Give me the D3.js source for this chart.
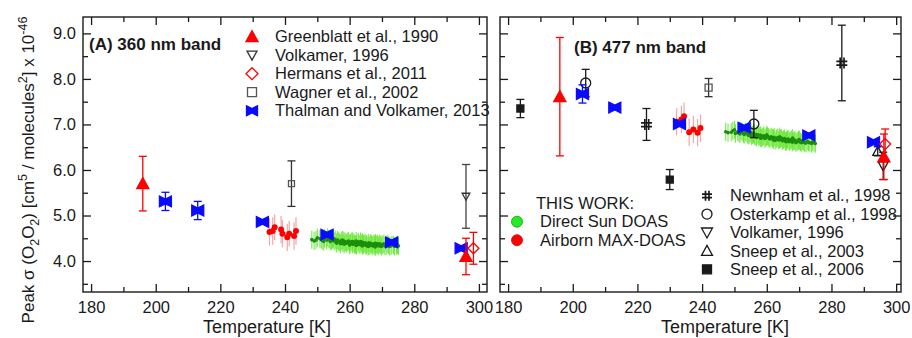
<!DOCTYPE html>
<html>
<head>
<meta charset="utf-8">
<script src="https://cdn.jsdelivr.net/npm/d3@7"></script>
<style>
  body { margin: 0; background: #fff; }
  svg { display: block; font-family: "Liberation Sans", Arial, sans-serif; }
</style>
</head>
<body>
<svg id="chart" width="912" height="338"></svg>
<script>
// ---- data: [temperature K, peak sigma (1e-46), error] ----
// (A) 360 nm band
const greenblattA = [[196, 5.70, 0.60], [296, 4.10, 0.40]];
const volkamerA = [[296, 5.42, 0.70]];
const hermansA = [[298.3, 4.28, 0.35]];
const wagnerA = [[242, 5.70, 0.50]];
const thalmanA = [[203, 5.31, 0.20], [213, 5.11, 0.20], [233, 4.86, 0], [253, 4.58, 0], [273, 4.41, 0], [294.5, 4.28, 0]];
const airborneA = [[235.2, 4.64, 0.3], [236.2, 4.66, 0.3], [236.8, 4.74, 0.28], [238.8, 4.69, 0.3], [239.2, 4.60, 0.3],
  [240.7, 4.52, 0.3], [241.3, 4.60, 0.28], [242.8, 4.55, 0.3], [243.4, 4.66, 0.3]];
const directSunA = [[248.3, 4.47], [249.0, 4.44], [249.6, 4.46], [250.0, 4.51], [250.8, 4.49], [251.2, 4.48], [251.5, 4.45],
  [252.0, 4.43], [252.2, 4.50], [252.9, 4.46], [253.2, 4.52], [253.6, 4.48], [253.9, 4.49], [254.0, 4.43], [254.4, 4.45],
  [254.7, 4.47], [255.0, 4.50], [255.2, 4.44], [255.5, 4.47], [255.8, 4.42], [256.0, 4.39], [256.3, 4.46], [256.6, 4.43],
  [256.9, 4.41], [257.2, 4.38], [257.4, 4.44], [257.7, 4.46], [257.9, 4.40], [258.0, 4.45], [258.3, 4.37], [258.5, 4.43],
  [258.8, 4.41], [259.0, 4.39], [259.4, 4.42], [259.6, 4.44], [259.9, 4.38], [260.0, 4.35], [260.2, 4.39], [260.4, 4.41],
  [260.7, 4.43], [260.9, 4.37], [261.0, 4.43], [261.3, 4.40], [261.5, 4.37], [261.8, 4.36], [262.0, 4.44], [262.1, 4.34],
  [262.3, 4.39], [262.7, 4.42], [262.9, 4.37], [263.2, 4.36], [263.4, 4.43], [263.6, 4.39], [263.9, 4.33], [264.0, 4.41],
  [264.1, 4.35], [264.3, 4.37], [264.5, 4.38], [264.8, 4.40], [265.0, 4.34], [265.2, 4.36], [265.4, 4.37], [265.7, 4.32],
  [265.9, 4.40], [266.0, 4.33], [266.3, 4.35], [266.5, 4.39], [266.8, 4.37], [267.0, 4.35], [267.2, 4.33], [267.5, 4.38],
  [267.7, 4.36], [267.9, 4.31], [268.0, 4.39], [268.1, 4.34], [268.4, 4.36], [268.6, 4.38], [268.8, 4.35], [269.0, 4.33],
  [269.3, 4.38], [269.5, 4.36], [269.8, 4.32], [270.0, 4.35], [270.3, 4.36], [270.6, 4.38], [270.9, 4.33], [271.3, 4.34],
  [271.6, 4.37], [272.0, 4.36], [272.3, 4.32], [272.8, 4.33], [273.1, 4.36], [273.6, 4.35], [273.9, 4.32], [274.5, 4.34],
  [274.8, 4.36], [275.1, 4.33]];

// (B) 477 nm band
const sneep2006B = [[183.8, 7.35, 0.20], [230, 5.79, 0.22]];
const greenblattB = [[196, 7.61, 1.30], [296.2, 6.29, 0.50]];
const osterkampB = [[204, 7.91, 0.30], [256, 7.01, 0.30]];
const thalmanB = [[203, 7.67, 0.20], [213, 7.37, 0], [233, 7.01, 0], [253, 6.93, 0], [273, 6.76, 0], [293, 6.61, 0]];
const newnhamB = [[222.8, 7.00, 0.35], [283.2, 8.35, 0.83]];
const wagnerB = [[242, 7.81, 0.20]];
const hermansB = [[296.6, 6.57, 0.33]];
const volkamerB = [[296, 6.09, 0.30]];
const sneep2003B = [[294.3, 6.41, 0.10]];
const airborneB = [[232.1, 7.06, 0.3], [233.6, 7.11, 0.3], [234.4, 7.18, 0.3], [236.0, 6.83, 0.3], [237.3, 6.89, 0.3],
  [238.6, 6.82, 0.3], [239.5, 6.92, 0.3]];
const directSunB = [[247.3, 6.84], [248.0, 6.82], [249.0, 6.83], [249.5, 6.86], [250.0, 6.88], [250.3, 6.80], [251.0, 6.84],
  [251.4, 6.81], [251.7, 6.79], [252.0, 6.86], [252.4, 6.83], [252.8, 6.80], [253.0, 6.78], [253.3, 6.84], [253.6, 6.82],
  [254.0, 6.80], [254.2, 6.77], [254.5, 6.76], [254.8, 6.80], [255.1, 6.82], [255.3, 6.75], [255.6, 6.77], [255.9, 6.79],
  [256.0, 6.81], [256.2, 6.76], [256.4, 6.74], [256.8, 6.72], [257.0, 6.78], [257.3, 6.77], [257.5, 6.73], [257.8, 6.75],
  [258.0, 6.70], [258.1, 6.76], [258.4, 6.70], [258.6, 6.72], [258.9, 6.74], [259.1, 6.75], [259.4, 6.69], [259.7, 6.71],
  [259.9, 6.73], [260.0, 6.77], [260.2, 6.74], [260.5, 6.72], [260.7, 6.70], [261.0, 6.68], [261.3, 6.73], [261.6, 6.71],
  [261.8, 6.69], [262.0, 6.66], [262.1, 6.70], [262.3, 6.72], [262.6, 6.65], [262.9, 6.68], [263.1, 6.69], [263.4, 6.71],
  [263.7, 6.66], [263.9, 6.67], [264.0, 6.73], [264.2, 6.68], [264.5, 6.70], [264.8, 6.64], [265.0, 6.66], [265.2, 6.67],
  [265.5, 6.69], [265.8, 6.63], [266.0, 6.62], [266.1, 6.65], [266.4, 6.67], [266.6, 6.68], [266.9, 6.62], [267.1, 6.64],
  [267.4, 6.65], [267.7, 6.67], [267.9, 6.61], [268.0, 6.70], [268.2, 6.63], [268.5, 6.64], [268.7, 6.66], [269.0, 6.60],
  [269.3, 6.62], [269.6, 6.63], [269.8, 6.65], [270.0, 6.67], [270.2, 6.64], [270.4, 6.61], [270.8, 6.60], [271.0, 6.64],
  [271.4, 6.62], [271.7, 6.60], [272.1, 6.59], [272.5, 6.63], [272.9, 6.61], [273.3, 6.60], [273.8, 6.58], [274.2, 6.62],
  [274.6, 6.60], [275.0, 6.58]];
const directSunErr = 0.2;

const yTicks = [4, 5, 6, 7, 8, 9];
const xTicks = [180, 200, 220, 240, 260, 280, 300];

const legendA = ['Greenblatt et al., 1990', 'Volkamer, 1996', 'Hermans et al., 2011', 'Wagner et al., 2002', 'Thalman and Volkamer, 2013'];
const legendB = ['Newnham et al., 1998', 'Osterkamp et al., 1998', 'Volkamer, 1996', 'Sneep et al., 2003', 'Sneep et al., 2006'];
const workLegend = ['Direct Sun DOAS', 'Airborn MAX-DOAS'];

const svg = d3.select('#chart');
const FONT = 16.5;
const RED = '#ff0000', BLUE = '#0a0aff', INK = '#1a1a1a';

const y = d3.scaleLinear().domain([3.32, 9.36]).range([292, 17]);
const xA = d3.scaleLinear().domain([177.5, 302.5]).range([83, 487]);
const xB = d3.scaleLinear().domain([177.5, 301.5]).range([500, 901]);

// marker shapes
const shapes = {
  triUp: s => `M0,${-s * 0.55}L${s * 0.55},${s * 0.45}L${-s * 0.55},${s * 0.45}Z`,
  triDown: s => `M0,${s * 0.55}L${s * 0.55},${-s * 0.45}L${-s * 0.55},${-s * 0.45}Z`,
  diamond: s => `M0,${-s / 2}L${s / 2},0L0,${s / 2}L${-s / 2},0Z`,
  square: s => `M${-s / 2},${-s / 2}h${s}v${s}h${-s}Z`,
  bowtie: s => `M${-s / 2},${-s * 0.45}L0,${-s * 0.2}L${s / 2},${-s * 0.45}L${s / 2},${s * 0.45}L0,${s * 0.2}L${-s / 2},${s * 0.45}Z`,
  hash: s => `M${-s * 0.15},${-s / 2}V${s / 2}M${s * 0.2},${-s / 2}V${s / 2}M${-s / 2},${-s * 0.15}H${s / 2}M${-s / 2},${s * 0.2}H${s / 2}`,
  circle: s => `M${s / 2},0A${s / 2},${s / 2} 0 1 1 ${-s / 2},0A${s / 2},${s / 2} 0 1 1 ${s / 2},0Z`
};

function errorBars(g, x, data, color, cap) {
  const eb = g.append('g').attr('stroke', color).attr('stroke-width', 1.3).attr('fill', 'none');
  data.filter(d => d[2] > 0).forEach(d => {
    const cx = x(d[0]);
    eb.append('line').attr('x1', cx).attr('x2', cx).attr('y1', y(d[1] - d[2])).attr('y2', y(d[1] + d[2]));
    [d[1] - d[2], d[1] + d[2]].forEach(v => {
      eb.append('line').attr('x1', cx - cap).attr('x2', cx + cap).attr('y1', y(v)).attr('y2', y(v));
    });
  });
}

function markers(g, x, data, shape, size, fill, stroke, sw) {
  g.append('g').selectAll('path').data(data).join('path')
    .attr('transform', d => `translate(${x(d[0])},${y(d[1])})`)
    .attr('d', shapes[shape](size))
    .attr('fill', fill).attr('stroke', stroke).attr('stroke-width', sw || 1.3);
}

function series(g, x, data, shape, size, fill, stroke, ebColor, sw) {
  errorBars(g, x, data, ebColor, 4);
  markers(g, x, data, shape, size, fill, stroke, sw);
}

function thisWork(g, x, sun, air) {
  const sg = g.append('g');
  sg.selectAll('line').data(sun).join('line')
    .attr('x1', d => x(d[0])).attr('x2', d => x(d[0]))
    .attr('y1', d => y(d[1] - directSunErr)).attr('y2', d => y(d[1] + directSunErr))
    .attr('stroke', '#6ee83c').attr('stroke-width', 1);
  sg.selectAll('circle').data(sun).join('circle')
    .attr('cx', d => x(d[0])).attr('cy', d => y(d[1])).attr('r', 1.8)
    .attr('fill', '#1c8e0c');
  const ag = g.append('g');
  ag.selectAll('line').data(air).join('line')
    .attr('x1', d => x(d[0])).attr('x2', d => x(d[0]))
    .attr('y1', d => y(d[1] - d[2])).attr('y2', d => y(d[1] + d[2]))
    .attr('stroke', '#f2a6a6').attr('stroke-width', 1.2);
  ag.selectAll('circle').data(air).join('circle')
    .attr('cx', d => x(d[0])).attr('cy', d => y(d[1])).attr('r', 3)
    .attr('fill', RED);
}

function frame(x, showYLabels) {
  const g = svg.append('g');
  const [x0, x1] = x.range();
  const [y0, y1] = y.range();
  const minorX = d3.range(180, 301, 10).filter(v => v % 20 !== 0);
  const minorY = d3.range(3.5, 9.3, 1);

  g.append('g').attr('transform', `translate(0,${y0})`)
    .call(d3.axisBottom(x).tickValues(xTicks).tickSize(-8).tickPadding(9).tickFormat(d3.format('d')));
  g.append('g').attr('transform', `translate(0,${y0})`)
    .call(d3.axisBottom(x).tickValues(minorX).tickSize(-5).tickFormat(''));
  g.append('g').attr('transform', `translate(0,${y1})`)
    .call(d3.axisTop(x).tickValues(xTicks).tickSize(-8).tickFormat(''));
  g.append('g').attr('transform', `translate(0,${y1})`)
    .call(d3.axisTop(x).tickValues(minorX).tickSize(-5).tickFormat(''));
  g.append('g').attr('transform', `translate(${x0},0)`)
    .call(d3.axisLeft(y).tickValues(yTicks).tickSize(-8).tickPadding(7).tickFormat(showYLabels ? d3.format('.1f') : ''));
  g.append('g').attr('transform', `translate(${x0},0)`)
    .call(d3.axisLeft(y).tickValues(minorY).tickSize(-5).tickFormat(''));
  g.append('g').attr('transform', `translate(${x1},0)`)
    .call(d3.axisRight(y).tickValues(yTicks).tickSize(-8).tickFormat(''));
  g.append('g').attr('transform', `translate(${x1},0)`)
    .call(d3.axisRight(y).tickValues(minorY).tickSize(-5).tickFormat(''));

  g.selectAll('.domain').remove();
  g.selectAll('.tick line').attr('stroke', INK).attr('stroke-width', 1.3);
  g.selectAll('.tick text').attr('font-size', FONT).attr('fill', INK).attr('font-family', null);

  g.append('rect').attr('x', x0).attr('y', y1).attr('width', x1 - x0).attr('height', y0 - y1)
    .attr('fill', 'none').attr('stroke', INK).attr('stroke-width', 1.4);
  return g;
}

// ---------- panel A ----------
frame(xA, true);
const gA = svg.append('g');
thisWork(gA, xA, directSunA, airborneA);
series(gA, xA, wagnerA, 'square', 6, 'none', '#555', '#333');
series(gA, xA, volkamerA, 'triDown', 7, 'none', '#333', '#444');
series(gA, xA, thalmanA, 'bowtie', 12, BLUE, BLUE, BLUE);
series(gA, xA, greenblattA, 'triUp', 11, RED, RED, RED);
series(gA, xA, hermansA, 'diamond', 11, 'none', RED, RED);

svg.append('text').attr('x', 89).attr('y', 50).attr('font-size', 17).attr('font-weight', 'bold')
  .attr('fill', INK).text('(A) 360 nm band');

const legA = svg.append('g');
const legAShapes = [['triUp', 11, RED, RED], ['triDown', 9, 'none', '#333'], ['diamond', 12, 'none', RED],
  ['square', 9, 'none', '#555'], ['bowtie', 11, BLUE, BLUE]];
legendA.forEach((t, i) => {
  const ly = 36.7 + i * 18.5;
  const s = legAShapes[i];
  legA.append('path').attr('transform', `translate(252,${ly})`).attr('d', shapes[s[0]](s[1]))
    .attr('fill', s[2]).attr('stroke', s[3]).attr('stroke-width', 1.3);
  legA.append('text').attr('x', 275).attr('y', ly).attr('dy', '0.35em').attr('font-size', FONT)
    .attr('fill', INK).text(t);
});

// ---------- panel B ----------
frame(xB, false);
const gB = svg.append('g');
thisWork(gB, xB, directSunB, airborneB);
series(gB, xB, wagnerB, 'square', 7, 'none', '#555', '#333');
series(gB, xB, sneep2006B, 'square', 7, INK, INK, INK);
series(gB, xB, newnhamB, 'hash', 11, 'none', INK, INK, 1.7);
series(gB, xB, osterkampB, 'circle', 10, 'none', INK, INK);
series(gB, xB, sneep2003B, 'triUp', 9, 'none', INK, INK);
series(gB, xB, volkamerB, 'triDown', 9, 'none', INK, INK);
series(gB, xB, thalmanB, 'bowtie', 12, BLUE, BLUE, BLUE);
series(gB, xB, greenblattB, 'triUp', 11, RED, RED, RED);
series(gB, xB, hermansB, 'diamond', 11, 'none', RED, RED);

svg.append('text').attr('x', 574).attr('y', 53).attr('font-size', 17).attr('font-weight', 'bold')
  .attr('fill', INK).text('(B) 477 nm band');

const legB = svg.append('g');
const legBShapes = [['hash', 10, 'none', INK], ['circle', 10, 'none', INK], ['triDown', 10, 'none', INK],
  ['triUp', 10, 'none', INK], ['square', 9, INK, INK]];
legendB.forEach((t, i) => {
  const ly = 195.7 + i * 18.4;
  const s = legBShapes[i];
  legB.append('path').attr('transform', `translate(707,${ly})`).attr('d', shapes[s[0]](s[1]))
    .attr('fill', s[2]).attr('stroke', s[3]).attr('stroke-width', i === 0 ? 1.7 : 1.3);
  legB.append('text').attr('x', 730).attr('y', ly).attr('dy', '0.35em').attr('font-size', FONT)
    .attr('fill', INK).text(t);
});

const legW = svg.append('g');
legW.append('text').attr('x', 536).attr('y', 203).attr('dy', '0.35em').attr('font-size', FONT)
  .attr('fill', INK).text('THIS WORK:');
workLegend.forEach((t, i) => {
  const ly = 221.7 + i * 18.5;
  legW.append('circle').attr('cx', 517).attr('cy', ly).attr('r', 5.5)
    .attr('fill', i === 0 ? '#22ee22' : RED).attr('stroke', i === 0 ? '#119911' : '#cc0000').attr('stroke-width', 0.8);
  legW.append('text').attr('x', 540).attr('y', ly).attr('dy', '0.35em').attr('font-size', FONT)
    .attr('fill', INK).text(t);
});

// ---------- axis titles ----------
svg.append('text').attr('x', 267).attr('y', 333).attr('text-anchor', 'middle').attr('font-size', 18)
  .attr('fill', INK).text('Temperature [K]');
svg.append('text').attr('x', 725).attr('y', 333).attr('text-anchor', 'middle').attr('font-size', 18)
  .attr('fill', INK).text('Temperature [K]');

const yl = svg.append('text').attr('transform', 'translate(34,170) rotate(-90)')
  .attr('text-anchor', 'middle').attr('font-size', 17).attr('fill', INK);
const parts = [['Peak σ (O', 0, 0], ['2', 5, 1], ['O', -5, 0], ['2', 5, 1], [') [cm', -5, 0], ['5', -7, 1],
  [' / molecules', 7, 0], ['2', -7, 1], ['] x 10', 7, 0], ['-46', -7, 1]];
parts.forEach(([t, dy, small]) => {
  yl.append('tspan').attr('dy', dy).attr('font-size', small ? 12.5 : 17).text(t);
});
</script>
</body>
</html>
